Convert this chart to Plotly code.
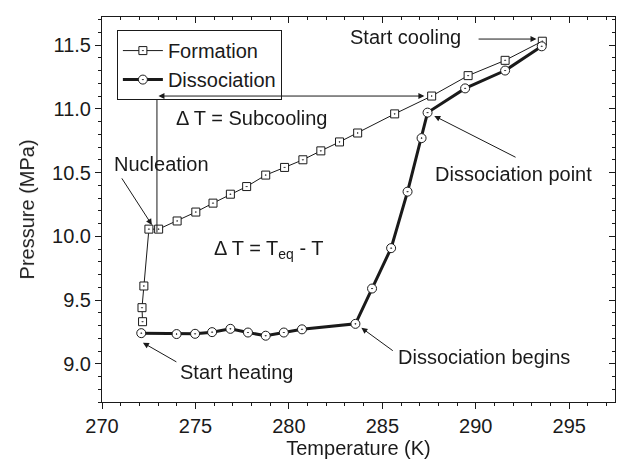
import plotly.graph_objects as go

# Formation (cooling) path: temperature (K) and pressure (MPa)
form_T = [293.56, 291.57, 289.59, 287.64, 285.66, 283.68, 282.71, 281.71, 280.75,
          279.77, 278.76, 277.74, 276.87, 275.94, 275.02, 274.02, 273.03, 272.51,
          272.24, 272.14, 272.17]
form_P = [11.53, 11.38, 11.26, 11.10, 10.96, 10.81, 10.74, 10.67, 10.60,
          10.54, 10.48, 10.39, 10.33, 10.26, 10.19, 10.12, 10.056, 10.056,
          9.61, 9.44, 9.33]

# Dissociation (heating) path
diss_T = [272.10, 273.99, 274.98, 275.89, 276.87, 277.81, 278.76, 279.73, 280.70,
          283.56, 284.45, 285.47, 286.35, 287.10, 287.42, 289.43, 291.57, 293.53]
diss_P = [9.24, 9.233, 9.235, 9.248, 9.274, 9.245, 9.22, 9.245, 9.27,
          9.313, 9.59, 9.907, 10.35, 10.77, 10.97, 11.16, 11.30, 11.49]

x_ticks = [270, 275, 280, 285, 290, 295]
y_ticks = [9.0, 9.5, 10.0, 10.5, 11.0, 11.5]

FONT = "Liberation Sans, Arial, sans-serif"
INK = "#1a1a1a"

fig = go.Figure()
fig.add_trace(go.Scatter(
    x=form_T, y=form_P, mode="lines+markers", name="Formation",
    line=dict(color=INK, width=1),
    marker=dict(symbol="square-dot", size=8, color="white", line=dict(color=INK, width=1)),
))
fig.add_trace(go.Scatter(
    x=diss_T, y=diss_P, mode="lines+markers", name="Dissociation",
    line=dict(color=INK, width=3),
    marker=dict(symbol="circle-dot", size=9, color="white", line=dict(color=INK, width=1)),
))

xr = [270, 297.45]
yr = [8.7, 11.72]

axis_common = dict(showgrid=False, zeroline=False, linecolor=INK, linewidth=1,
                   tickcolor=INK, tickwidth=1)

fig.update_layout(
    width=617, height=465,
    margin=dict(l=102, r=2, t=17, b=63),
    paper_bgcolor="white", plot_bgcolor="white",
    font=dict(family=FONT, size=20, color=INK),
    showlegend=True,
    legend=dict(x=0.029, y=0.966, xanchor="left", yanchor="top",
                bordercolor=INK, borderwidth=1, bgcolor="white",
                font=dict(size=20), tracegroupgap=0, itemwidth=40),
    xaxis=dict(range=xr, tickvals=x_ticks, ticks="outside", ticklen=6,
               minor=dict(dtick=1, ticks="outside", ticklen=3, tickcolor=INK),
               title=dict(text="Temperature (K)", standoff=3, font=dict(size=20)),
               showline=True, mirror=True, **axis_common),
    yaxis=dict(range=yr, tickvals=y_ticks, tickformat=".1f", ticks="outside", ticklen=6,
               minor=dict(dtick=0.1, ticks="outside", ticklen=3, tickcolor=INK),
               title=dict(text="Pressure (MPa)", standoff=12, font=dict(size=20)),
               showline=True, mirror=True, **axis_common),
    xaxis2=dict(range=xr, tickvals=x_ticks, ticks="inside", ticklen=6, overlaying="x",
                side="top", anchor="y2", showticklabels=False, showline=True,
                minor=dict(dtick=1, ticks="inside", ticklen=3, tickcolor=INK),
                **axis_common),
    yaxis2=dict(range=yr, tickvals=y_ticks, ticks="inside", ticklen=6, overlaying="y",
                side="right", anchor="x2", showticklabels=False, showline=True,
                minor=dict(dtick=0.1, ticks="inside", ticklen=3, tickcolor=INK),
                **axis_common),
)

# fully transparent helper trace so the mirrored frame axes (inside ticks) exist
fig.add_trace(go.Scatter(x=form_T, y=form_P, xaxis="x2", yaxis="y2", showlegend=False,
                         hoverinfo="skip", mode="markers", opacity=0,
                         marker=dict(size=1, color="white")))

ann = []
def text(x, y, s):
    ann.append(dict(x=x, y=y, xref="x", yref="y", text=s, showarrow=False,
                    font=dict(size=20, color=INK), xanchor="center", yanchor="middle"))

def arrow(x, y, ax, ay, side="end"):
    ann.append(dict(x=x, y=y, ax=ax, ay=ay, xref="x", yref="y", axref="x", ayref="y",
                    text="", showarrow=True, arrowhead=2, arrowsize=1.2, arrowwidth=1,
                    arrowcolor=INK, arrowside=side, standoff=0, startstandoff=0))

text(286.23, 11.563, "Start cooling")
arrow(293.25, 11.547, 290.07, 11.547)

text(278.01, 10.928, "Δ T = Subcooling")
arrow(287.25, 11.10, 272.94, 11.10, side="end+start")

text(273.2, 10.567, "Nucleation")
arrow(272.67, 10.089, 271.01, 10.466)

text(278.92, 9.893, "Δ T = T<sub>eq</sub> - T")

text(292.0, 10.489, "Dissociation point")
arrow(287.78, 10.944, 292.21, 10.614)

text(290.42, 9.055, "Dissociation begins")
arrow(283.88, 9.282, 285.64, 9.094)

text(277.18, 8.937, "Start heating")
arrow(272.19, 9.165, 274.06, 9.008)

fig.update_layout(annotations=ann)
fig.add_shape(type="line", xref="x", yref="y", x0=272.94, x1=272.94, y0=11.10, y1=10.03,
              line=dict(color=INK, width=1))

fig.write_html("out.html", config={"displayModeBar": False},
               post_script="document.body.style.margin='0px';")
